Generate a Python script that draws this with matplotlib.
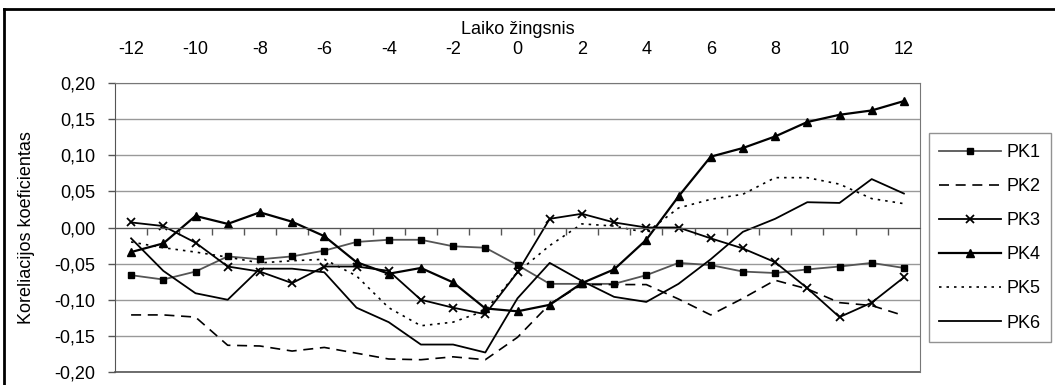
import matplotlib
matplotlib.use("Agg")
import matplotlib.pyplot as plt
from matplotlib.ticker import FuncFormatter, FixedLocator
from matplotlib.lines import Line2D
import numpy as np

plt.rcParams['font.family'] = ['Liberation Sans', 'DejaVu Sans']
plt.rcParams['axes.unicode_minus'] = False

# laiko zingsnis -12 ... 12
lags = list(range(-12, 13))

pk1 = [-0.066, -0.072, -0.061, -0.040, -0.044, -0.040, -0.032, -0.020, -0.017,
       -0.017, -0.026, -0.028, -0.052, -0.078, -0.078, -0.078, -0.066, -0.049,
       -0.052, -0.061, -0.063, -0.058, -0.054, -0.049, -0.056]
pk2 = [-0.121, -0.121, -0.124, -0.163, -0.164, -0.171, -0.166, -0.174, -0.182,
       -0.183, -0.179, -0.183, -0.152, -0.106, -0.079, -0.079, -0.079, -0.099,
       -0.121, -0.098, -0.073, -0.085, -0.104, -0.108, -0.122]
pk3 = [0.007, 0.002, -0.021, -0.054, -0.061, -0.077, -0.054, -0.054, -0.060,
       -0.100, -0.111, -0.120, -0.062, 0.012, 0.019, 0.007, 0.000, 0.000,
       -0.015, -0.029, -0.048, -0.084, -0.124, -0.104, -0.069]
pk4 = [-0.034, -0.022, 0.016, 0.005, 0.021, 0.008, -0.012, -0.048, -0.064,
       -0.056, -0.076, -0.112, -0.116, -0.107, -0.077, -0.058, -0.017, 0.043,
       0.098, 0.110, 0.126, 0.146, 0.156, 0.162, 0.175]
pk5 = [-0.020, -0.028, -0.034, -0.041, -0.049, -0.046, -0.044, -0.067, -0.111,
       -0.136, -0.131, -0.115, -0.062, -0.025, 0.005, 0.002, -0.007, 0.027,
       0.039, 0.046, 0.069, 0.069, 0.060, 0.040, 0.033]
pk6 = [-0.015, -0.060, -0.091, -0.100, -0.057, -0.057, -0.062, -0.111, -0.131,
       -0.162, -0.162, -0.173, -0.098, -0.049, -0.074, -0.096, -0.103, -0.078,
       -0.044, -0.006, 0.012, 0.035, 0.034, 0.067, 0.047]

fig = plt.figure(figsize=(10.55, 3.85), dpi=100)
ax = fig.add_axes([115 / 1055, 1 - 372 / 385, 805 / 1055, 289 / 385])

ax.plot(lags, pk1, color='#555555', lw=1.3, marker='s', ms=5, mfc='black', mec='black', label='PK1')
ax.plot(lags, pk2, color='black', lw=1.2, dashes=(6, 4), label='PK2')
ax.plot(lags, pk3, color='black', lw=1.3, marker='x', ms=6, mew=1.3, label='PK3')
ax.plot(lags, pk4, color='black', lw=1.6, marker='^', ms=6, label='PK4')
ax.plot(lags, pk5, color='black', lw=1.2, dashes=(1.5, 3), label='PK5')
ax.plot(lags, pk6, color='black', lw=1.3, label='PK6')

ax.set_xlim(-12.5, 12.5)
ax.set_ylim(-0.2, 0.2)
ax.set_yticks(np.arange(-0.20, 0.201, 0.05))
ax.yaxis.set_major_formatter(FuncFormatter(lambda v, p: f"{v:.2f}".replace('.', ',').replace('-0,00', '0,00')))
ax.grid(axis='y', color='#999999', lw=1)
ax.set_axisbelow(True)

# kategoriju asis per nuli
ax.xaxis.set_major_locator(FixedLocator(lags[::2]))
ax.xaxis.set_minor_locator(FixedLocator(np.arange(-11.5, 12, 1.0)))
ax.tick_params(axis='x', which='major', top=True, bottom=False, labeltop=True,
               labelbottom=False, length=0, pad=18, labelsize=13)
ax.tick_params(axis='x', which='minor', top=False, bottom=True, direction='out',
               length=5, width=1, color='#555555')
ax.tick_params(axis='y', length=5, width=1, color='#555555', pad=9, labelsize=13)
ax.spines['bottom'].set_position(('data', 0))
ax.spines['bottom'].set_color('#555555')
ax.spines['left'].set_color('#555555')
ax.spines['top'].set_color('#777777')
ax.spines['right'].set_color('#777777')
ax.axhline(-0.2, color='#555555', lw=1.2, clip_on=False)

ax.xaxis.set_label_position('top')
ax.set_xlabel('Laiko žingsnis', fontsize=13, labelpad=5)
ax.set_ylabel('Koreliacijos koeficientas', fontsize=13, labelpad=14)

leg = fig.legend(loc='upper left', bbox_to_anchor=(928.5 / 1055, 1 - 133 / 385),
                 borderaxespad=0, fontsize=13, frameon=True, fancybox=False,
                 handlelength=3.4, handletextpad=0.3, labelspacing=0.95,
                 borderpad=0.6)
leg.get_frame().set_edgecolor('#777777')
leg.get_frame().set_linewidth(1)

# remelis aplink visa diagrama
fig.add_artist(Line2D([3.5 / 1055, 3.5 / 1055], [0, 1 - 8.5 / 385], color='black', lw=2))
fig.add_artist(Line2D([3.5 / 1055, 1], [1 - 8.5 / 385, 1 - 8.5 / 385], color='black', lw=2))

fig.savefig('out.png', dpi=100)
